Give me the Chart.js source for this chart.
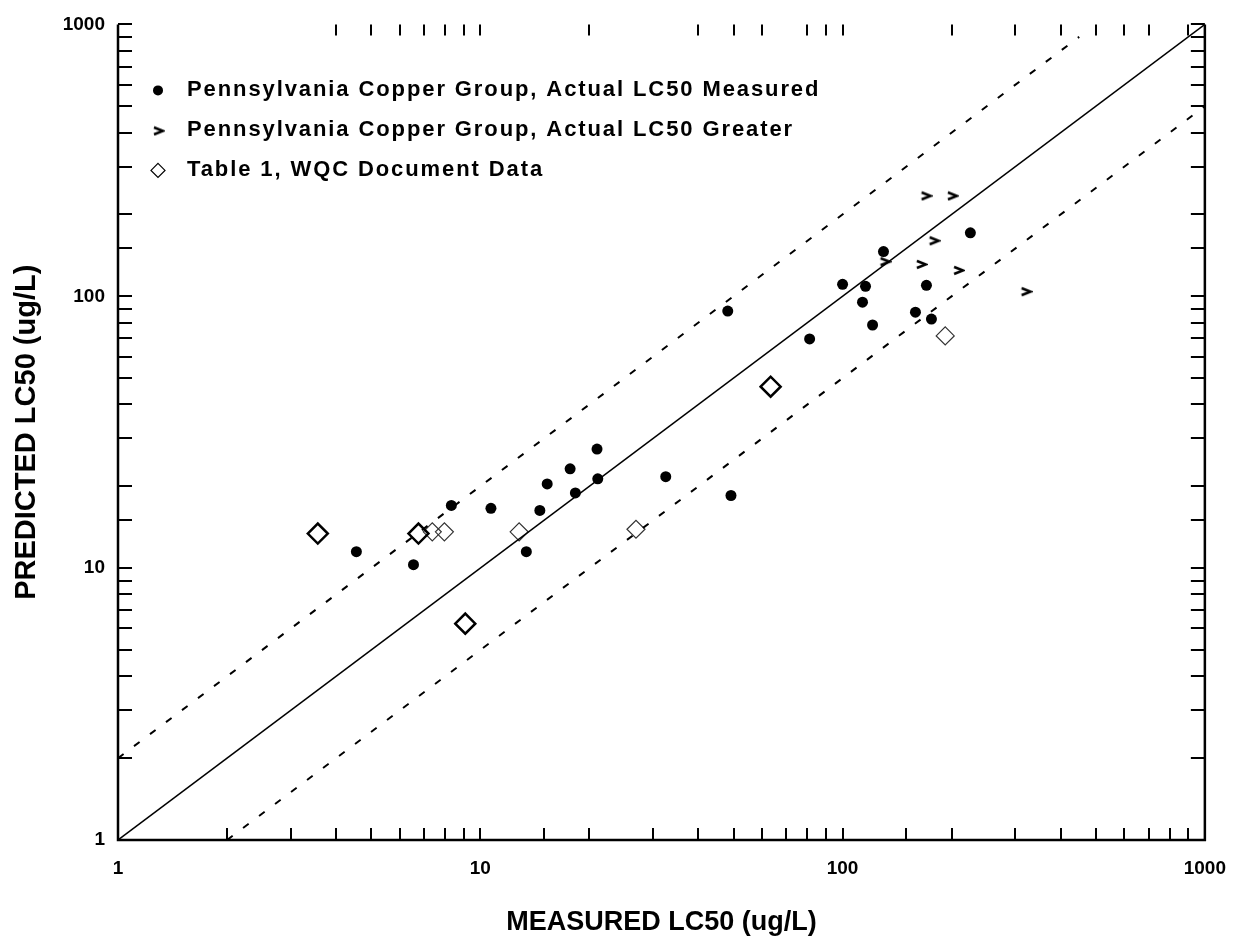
<!DOCTYPE html>
<html>
<head>
<meta charset="utf-8">
<script src="https://cdn.jsdelivr.net/npm/chart.js@4"></script>
<style>
  html, body { margin: 0; padding: 0; background: #fff; }
  #wrap { width: 1243px; height: 941px; }
</style>
</head>
<body>
<div id="wrap"><canvas id="chart" width="1243" height="941"></canvas></div>
<script>
// ======= DATA =======
const measuredX = [4.55, 6.54, 8.32, 10.7, 13.4, 14.6, 15.3, 18.3, 17.7, 21.0, 21.1, 32.5, 49.2, 48.2, 81.1, 100, 115.7, 113.5, 121, 129.7, 158.9, 170.4, 175.9, 225.3];
const measuredY = [11.5, 10.3, 17.0, 16.6, 11.5, 16.3, 20.4, 18.9, 23.2, 27.4, 21.3, 21.7, 18.5, 88.2, 69.7, 110.6, 108.8, 95.1, 78.4, 146, 87.4, 109.7, 82.4, 171.2];

const greaterX = [170, 201, 179, 131, 165, 209, 321];
const greaterY = [234, 234, 160, 134, 131, 124.5, 104];

const wqcX = [3.56, 6.75, 9.09, 63.3];
const wqcY = [13.4, 13.4, 6.25, 46.5];
const wqcFaintX = [12.8, 26.9, 192, 7.37, 7.96];
const wqcFaintY = [13.6, 13.9, 71.5, 13.6, 13.6];

// 1:1 line and factor-of-two bounds
const oneToOneX = [1, 1000];
const oneToOneY = [1, 1000];
const upperX = [1, 450];
const upperY = [2, 900];
const lowerX = [2, 1000];
const lowerY = [1, 500];

const legendLabels = [
  "Pennsylvania Copper Group, Actual LC50 Measured",
  "Pennsylvania Copper Group, Actual LC50 Greater",
  "Table 1, WQC Document Data"
];
const topTickValues = [4, 5, 6, 7, 8, 9, 10, 20, 40, 50, 60, 80, 90, 100, 200, 300, 400, 500, 600, 700, 900];

const FONT = "'Liberation Sans', Arial, sans-serif";
const pts = (xs, ys) => xs.map((x, i) => ({ x: x, y: ys[i] }));

// ">" marker
function makeGreater() {
  const c = document.createElement("canvas");
  c.width = 13; c.height = 11;
  const g = c.getContext("2d");
  g.strokeStyle = "#000";
  g.lineWidth = 2.6;
  g.beginPath();
  g.moveTo(2, 2); g.lineTo(11, 5.5); g.lineTo(2, 9);
  g.stroke();
  return c;
}
const greaterImg = makeGreater();

// ======= FRAME + LEGEND =======
const framePlugin = {
  id: "frame",
  afterDraw(chart) {
    const ctx = chart.ctx;
    const a = chart.chartArea;
    const xs = chart.scales.x, ys = chart.scales.y;
    ctx.save();
    ctx.strokeStyle = "#000";
    ctx.lineWidth = 2.5;
    ctx.beginPath();
    ctx.moveTo(a.left, a.top); ctx.lineTo(a.left, a.bottom);
    ctx.lineTo(a.right, a.bottom); ctx.lineTo(a.right, a.top);
    ctx.stroke();

    ctx.lineWidth = 2;
    ctx.beginPath();
    xs.ticks.forEach(t => {
      const px = Math.round(xs.getPixelForValue(t.value));
      ctx.moveTo(px, a.bottom); ctx.lineTo(px, a.bottom - 12);
    });
    topTickValues.forEach(v => {
      const px = Math.round(xs.getPixelForValue(v));
      ctx.moveTo(px, a.top); ctx.lineTo(px, a.top + 11);
    });
    ys.ticks.forEach(t => {
      const py = Math.round(ys.getPixelForValue(t.value));
      ctx.moveTo(a.left, py); ctx.lineTo(a.left + 14, py);
      ctx.moveTo(a.right, py); ctx.lineTo(a.right - 14, py);
    });
    ctx.stroke();

    // legend
    const lx = a.left + 40, ty = a.top + 66;
    ctx.font = "bold 22px " + FONT;
    ctx.letterSpacing = "1.9px";
    ctx.fillStyle = "#000";
    ctx.textBaseline = "middle";
    legendLabels.forEach((lab, i) => {
      const y = ty + i * 40;
      if (i === 0) {
        ctx.beginPath(); ctx.arc(lx, y, 5, 0, Math.PI * 2); ctx.fill();
      } else if (i === 1) {
        ctx.drawImage(greaterImg, lx - 6, y - 5);
      } else {
        ctx.lineWidth = 1.2;
        ctx.beginPath();
        ctx.moveTo(lx, y - 7); ctx.lineTo(lx + 7, y); ctx.lineTo(lx, y + 7); ctx.lineTo(lx - 7, y);
        ctx.closePath(); ctx.stroke();
      }
      ctx.fillText(lab, lx + 29, y);
    });
    ctx.restore();
  }
};

// ======= CHART =======
const ctx = document.getElementById("chart");
const chart = new Chart(ctx, {
  type: "scatter",
  data: {
    datasets: [
      { label: "1:1", data: pts(oneToOneX, oneToOneY), showLine: true, borderColor: "#000", borderWidth: 1.5, pointRadius: 0 },
      { label: "upper", data: pts(upperX, upperY), showLine: true, borderColor: "#000", borderWidth: 2, borderDash: [7, 13], pointRadius: 0 },
      { label: "lower", data: pts(lowerX, lowerY), showLine: true, borderColor: "#000", borderWidth: 2, borderDash: [7, 13], pointRadius: 0 },
      { label: legendLabels[0], data: pts(measuredX, measuredY), pointStyle: "circle", pointRadius: 5.5, backgroundColor: "#000", borderColor: "#000", borderWidth: 0 },
      { label: legendLabels[1], data: pts(greaterX, greaterY), pointStyle: greaterImg, pointRadius: 6 },
      { label: legendLabels[2], data: pts(wqcX, wqcY), pointStyle: "rectRot", pointRadius: 10, backgroundColor: "rgba(0,0,0,0)", borderColor: "#000", borderWidth: 2.5 },
      { label: "faint", data: pts(wqcFaintX, wqcFaintY), pointStyle: "rectRot", pointRadius: 9, backgroundColor: "rgba(0,0,0,0)", borderColor: "#333", borderWidth: 1.2 }
    ]
  },
  options: {
    responsive: false,
    animation: false,
    layout: { padding: { top: 19, right: 36, left: 0, bottom: 0 } },
    plugins: { legend: { display: false }, tooltip: { enabled: false } },
    scales: {
      x: {
        type: "logarithmic",
        min: 1, max: 1000,
        grid: { display: false, drawTicks: false },
        border: { display: false },
        ticks: {
          autoSkip: false, maxRotation: 0, padding: 17, color: "#000",
          font: { family: FONT, size: 19, weight: "bold" },
          callback: v => Number.isInteger(Math.log10(v)) ? String(v) : ""
        },
        title: { display: true, text: "MEASURED LC50 (ug/L)", color: "#000", padding: { top: 0, bottom: 2 }, font: { family: FONT, size: 27, weight: "bold" } },
        afterFit: s => { s.height = 101; }
      },
      y: {
        type: "logarithmic",
        min: 1, max: 1000,
        grid: { display: false, drawTicks: false },
        border: { display: false },
        ticks: {
          autoSkip: false, padding: 13, color: "#000",
          font: { family: FONT, size: 19, weight: "bold" },
          callback: v => Number.isInteger(Math.log10(v)) ? String(v) : ""
        },
        title: { display: true, text: "PREDICTED LC50 (ug/L)", color: "#000", padding: { top: 10, bottom: 0 }, font: { family: FONT, size: 29, weight: "bold" } },
        afterFit: s => { s.width = 118; }
      }
    }
  },
  plugins: [framePlugin]
});
</script>
</body>
</html>
